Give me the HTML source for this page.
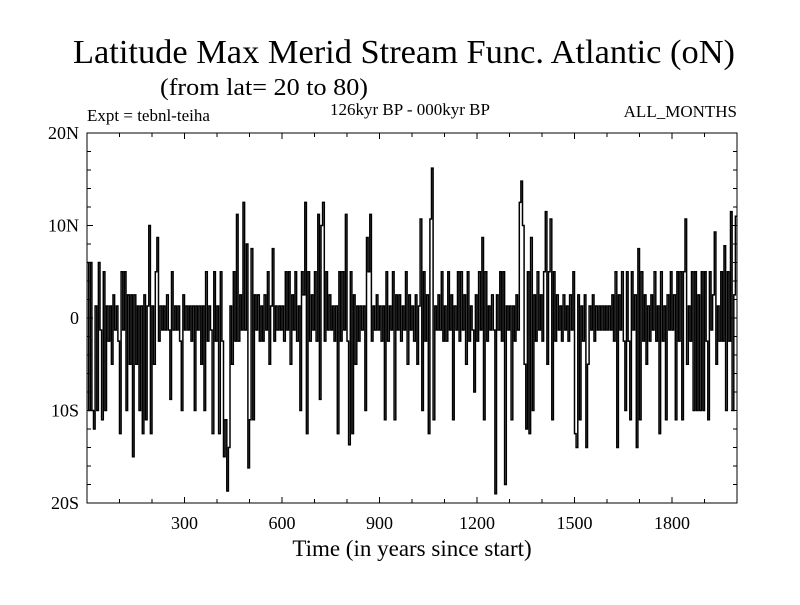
<!DOCTYPE html>
<html><head><meta charset="utf-8"><style>
body{margin:0;background:#fff;}
svg text{font-family:"Liberation Serif",serif;fill:#000;}
</style></head><body>
<svg id="chart" width="800" height="600" xmlns="http://www.w3.org/2000/svg">
<text x="404" y="63" font-size="34" text-anchor="middle" textLength="662" lengthAdjust="spacingAndGlyphs">Latitude Max Merid Stream Func. Atlantic (oN)</text>
<text x="160" y="95" font-size="24" textLength="208" lengthAdjust="spacingAndGlyphs">(from lat= 20 to 80)</text>
<text x="87" y="121" font-size="17">Expt = tebnl-teiha</text>
<text x="410" y="115" font-size="17" text-anchor="middle">126kyr BP - 000kyr BP</text>
<text x="737" y="117" font-size="17" text-anchor="end">ALL_MONTHS</text>
<text x="412" y="556" font-size="23" text-anchor="middle">Time (in years since start)</text>
<g id="plot"></g>
</svg>
<script>
const yTickVals=[20,10,0,-10,-20];
const yTickLabels=["20N","10N","0","10S","20S"];
const xTickVals=[300,600,900,1200,1500,1800];
const yearStep=5;
const values=[
6,-10,6,-10,-12,1.3,-10,6,-1.3,-11,5,-10,1.3,-2.5,1.3,-5,2.5,-1.3,1.3,-2.5,
-12.5,5,-1.3,5,-10,2.5,-5,2.5,-15,2.5,-5,1.3,-10,1.3,-12.5,2.5,-11,1.3,10,-12.5,
1.3,-5,5,8.7,-2.5,1.3,-1.3,1.3,-1.3,2.5,-1.3,-8.8,5,-1.3,1.3,-1.3,1.3,-2.5,-10,2.5,
-1.3,1.3,-1.3,1.3,-2.5,1.3,-10,1.3,-1.3,1.3,-5,1.3,-10,5,-2.5,1.3,-1.3,-12.5,5,-2.5,
1.3,-12.5,5,-2.5,-15,-11,-18.7,-14,1.3,-5,5,-2.5,11.2,-2.5,2.5,-1.3,12.5,-1.3,8,-16.2,
-11,7.5,-11,2.5,-1.3,2.5,-2.5,1.3,-2.5,2.5,-1.3,5,-5,1.3,7.5,-2.5,1.3,-1.3,1.3,-1.3,
1.3,-2.5,5,-1.3,5,-5,2.5,-1.3,5,-2.5,1.3,-10,5,2.5,12.5,-12.5,5,-2.5,2.5,-1.3,
5,-2.5,11.2,-8.8,10,12.5,-2.5,5,-1.3,2.5,-1.3,1.3,-2.5,1.3,-12.5,5,-2.5,5,-1.3,11.2,
-2.5,-13.7,5,-12.5,2.5,-5,1.3,-2.5,1.3,-1.3,1.3,-10,8.7,5,11.2,-2.5,1.3,-1.3,2.5,-1.3,
1.3,-2.5,1.3,-11,5,-2.5,1.3,-1.3,5,-11,2.5,-1.3,2.5,-2.5,1.3,-1.3,5,-5,2.5,-1.3,
1.3,-2.5,2.5,-5,1.3,10.7,-10,5,-2.5,2.5,-12.5,10.7,16.2,-11,1.3,-1.3,2.5,-1.3,5,-2.5,
1.3,-2.5,5,-1.3,2.5,-11,1.3,-1.3,5,-2.5,5,-1.3,2.5,-5,5,-2.5,1.3,-1.3,-8,2.5,
-2.5,5,-1.3,8.7,-11,5,-2.5,1.3,-1.3,2.5,-1.3,-19,2.5,-1.3,5,-2.5,5,-18,1.3,-1.3,
1.3,-11,1.3,-2.5,2.5,-1.3,12.5,14.8,10,-5,-12,5,-12.5,8.7,-10,2.5,-2.5,5,-1.3,2.5,
-2.5,5,11.5,-5,5,10.7,-11,5,-2.5,2.5,-1.3,1.3,-2.5,2.5,-1.3,1.3,-2.5,2.5,-1.3,5,
-12.5,-14,2.5,-11,1.3,-2.5,2.5,-14,-5,1.3,-1.3,2.5,-2.5,1.3,-1.3,1.3,-1.3,1.3,-1.3,1.3,
-1.3,1.3,-1.3,2.5,-2.5,5,-14,2.5,-1.3,5,-2.5,-10,5,-2.5,-11,5,-1.3,2.5,-14,7.5,
-11,5,-2.5,2.5,-5,1.3,-2.5,2.5,-1.3,5,-2.5,1.3,-12.5,5,-2.5,1.3,-11,2.5,-1.3,5,
-1.3,2.5,-11,5,-2.5,5,-11,5,10.7,-5,1.3,-2.5,5,-10,5,-10,2.5,-10,5,-10,
5,-2.5,-11,5,-1.3,2.5,9.3,-5,1.3,-2.5,5,-2.5,7.8,-10,5,-2.5,11.5,-10,2.5,11
];
const L=87,R=737,T=133,B=503;
const X0=0,X1=2000,Y0=-20,Y1=20;
const sx=v=>L+(v-X0)/(X1-X0)*(R-L);
const sy=v=>B-(v-Y0)/(Y1-Y0)*(B-T);
const NS="http://www.w3.org/2000/svg";
const g=document.getElementById('plot');
function mk(tag,attrs){const e=document.createElementNS(NS,tag);for(const k in attrs)e.setAttribute(k,attrs[k]);g.appendChild(e);return e;}
// data step line
let d="";
values.forEach((v,i)=>{
  const xa=sx(i*yearStep).toFixed(1),xb=sx((i+1)*yearStep).toFixed(1),y=sy(v).toFixed(1);
  d+=(i?"L":"M")+xa+","+y+"L"+xb+","+y;
});
const line=mk('path',{d:d,fill:'none',stroke:'#000','stroke-width':1.5,'stroke-linejoin':'miter'});


// frame
const fr=mk('rect',{x:L,y:T,width:R-L,height:B-T,fill:'none',stroke:'#000','stroke-width':1});


// y ticks
for(let v=Y0;v<=Y1;v+=2){
  const y=sy(v),len=(v%10===0)?6:4;
  const t1=mk('line',{x1:L,x2:L+len,y1:y,y2:y,stroke:'#000'});
  
  
  const t2=mk('line',{x1:R,x2:R-len,y1:y,y2:y,stroke:'#000'});
  
  
}
yTickVals.forEach((v,i)=>{
  const t=mk('text',{x:79,y:sy(v)+6,'font-size':18,'text-anchor':'end'});
  t.textContent=yTickLabels[i];
  
  
});
// x ticks
for(let v=100;v<X1;v+=100){
  const x=sx(v),len=(v%300===0)?6:4;
  const t1=mk('line',{x1:x,x2:x,y1:B,y2:B-len,stroke:'#000'});
  
  
  const t2=mk('line',{x1:x,x2:x,y1:T,y2:T+len,stroke:'#000'});
  
  
}
xTickVals.forEach(v=>{
  const t=mk('text',{x:sx(v),y:529,'font-size':18,'text-anchor':'middle'});
  t.textContent=String(v);
  
  
});
</script>
</body></html>
